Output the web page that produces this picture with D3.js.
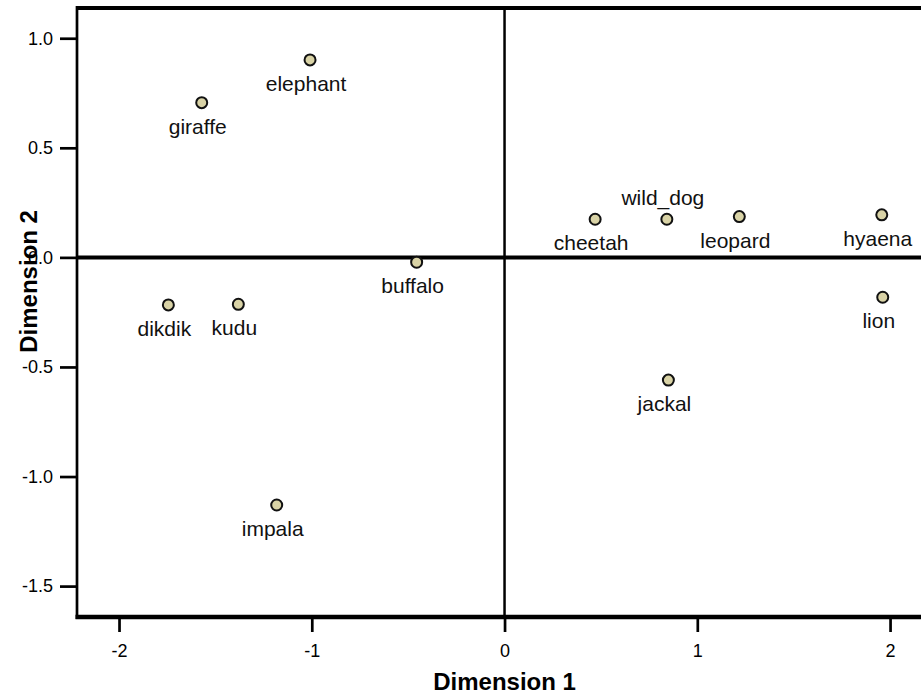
<!DOCTYPE html>
<html>
<head>
<meta charset="utf-8">
<script src="https://cdn.jsdelivr.net/npm/d3@7"></script>
<style>
  html, body { margin: 0; padding: 0; background: #fff; }
  svg { display: block; font-family: "Liberation Sans", Arial, sans-serif; }
</style>
</head>
<body>
<svg id="chart" width="921" height="696"></svg>
<script>
// Correspondence analysis: animals placed on the first two dimensions
const animals = ["elephant", "giraffe", "buffalo", "cheetah", "wild_dog", "leopard",
                 "hyaena", "lion", "dikdik", "kudu", "impala", "jackal"];
const dim1 = [-1.009, -1.571, -0.456, 0.470, 0.842, 1.218, 1.957, 1.962, -1.744, -1.381, -1.182, 0.850];
const dim2 = [0.901, 0.706, -0.022, 0.174, 0.174, 0.186, 0.194, -0.182, -0.217, -0.214, -1.130, -0.560];
const labelAbove = ["wild_dog"];

const xTicks = [-2, -1, 0, 1, 2];
const yTicks = [1.0, 0.5, 0.0, -0.5, -1.0, -1.5];
const xTitle = "Dimension 1";
const yTitle = "Dimension 2";

const svg = d3.select("#chart");
const plotLeft = 77, plotRight = 929, plotTop = 8, plotBottom = 617;

const x = d3.scaleLinear().domain([-2.218, 2.202]).range([plotLeft, plotRight]);
const y = d3.scaleLinear().domain([-1.641, 1.138]).range([plotBottom, plotTop]);

// Plain hyphen for negative numbers
const hyphen = f => d => f(d).replace("\u2212", "-");

// Frame: top border
svg.append("line").attr("x1", plotLeft).attr("x2", plotRight + 4).attr("y1", plotTop).attr("y2", plotTop)
  .attr("stroke", "#000").attr("stroke-width", 4);

// Reference lines through the origin
svg.append("line").attr("x1", x(0)).attr("x2", x(0)).attr("y1", plotTop).attr("y2", plotBottom)
  .attr("stroke", "#000").attr("stroke-width", 2.5);
svg.append("line").attr("x1", plotLeft).attr("x2", plotRight).attr("y1", y(0)).attr("y2", y(0))
  .attr("stroke", "#000").attr("stroke-width", 4);

// Axes
const xAxis = d3.axisBottom(x).tickValues(xTicks).tickSize(15).tickPadding(12)
  .tickFormat(hyphen(d3.format("d")));
const gx = svg.append("g").attr("transform", `translate(0,${plotBottom})`).call(xAxis);
gx.select(".domain").remove();
gx.selectAll(".tick line").attr("stroke", "#000").attr("stroke-width", 2.7);
gx.selectAll(".tick text").attr("font-size", 18).attr("fill", "#000")
  .attr("font-family", "Liberation Sans, Arial, sans-serif");
svg.append("line").attr("x1", plotLeft - 1.5).attr("x2", plotRight + 4).attr("y1", plotBottom).attr("y2", plotBottom)
  .attr("stroke", "#000").attr("stroke-width", 4.5);

const yAxis = d3.axisLeft(y).tickValues(yTicks).tickSize(17).tickPadding(7)
  .tickFormat(hyphen(d3.format(".1f")));
const gy = svg.append("g").attr("transform", `translate(${plotLeft},0)`).call(yAxis);
gy.select(".domain").remove();
gy.selectAll(".tick line").attr("stroke", "#000").attr("stroke-width", 2.7);
gy.selectAll(".tick text").attr("font-size", 18).attr("fill", "#000")
  .attr("font-family", "Liberation Sans, Arial, sans-serif");
svg.append("line").attr("x1", plotLeft).attr("x2", plotLeft).attr("y1", plotTop - 2).attr("y2", plotBottom + 2)
  .attr("stroke", "#000").attr("stroke-width", 2.7);

// Axis titles
svg.append("text").attr("x", x(0)).attr("y", 690).attr("text-anchor", "middle")
  .attr("font-size", 24).attr("font-weight", "bold").text(xTitle);
svg.append("text").attr("transform", `translate(37,${y(0) + 24}) rotate(-90)`)
  .attr("text-anchor", "middle").attr("font-size", 24).attr("font-weight", "bold").text(yTitle);

// Points and their labels
const data = animals.map((name, i) => ({ name, d1: dim1[i], d2: dim2[i] }));
const g = svg.append("g");
g.selectAll("circle").data(data).join("circle")
  .attr("cx", d => x(d.d1)).attr("cy", d => y(d.d2)).attr("r", 5.5)
  .attr("fill", "#d9d3a6").attr("stroke", "#111").attr("stroke-width", 2);
g.selectAll("text").data(data).join("text")
  .attr("x", d => x(d.d1) - 4)
  .attr("y", d => y(d.d2) + (labelAbove.includes(d.name) ? -14 : 31))
  .attr("text-anchor", "middle").attr("font-size", 21).attr("fill", "#111")
  .text(d => d.name);
</script>
</body>
</html>
